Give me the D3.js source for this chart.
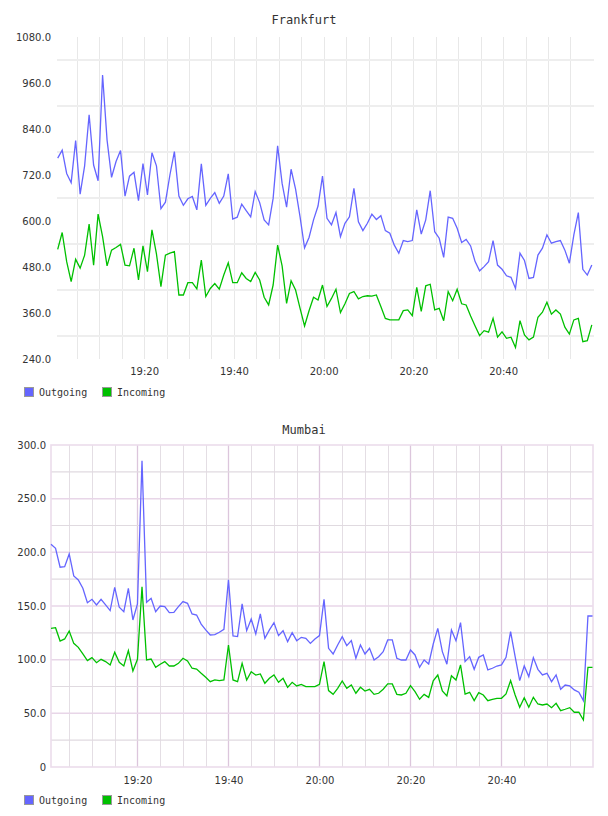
<!DOCTYPE html>
<html>
<head>
<meta charset="utf-8">
<script src="https://cdn.jsdelivr.net/npm/d3@7"></script>
<style>
  body { margin: 0; background: #fff; }
  text { fill: #333; }
</style>
</head>
<body>
<svg id="chart" width="608" height="816"></svg>
<script>
// series names, shared by both panels
var seriesNames = ["Outgoing", "Incoming"];

// Frankfurt, one sample per minute starting 19:00:45
var frankfurtStart = [19, 0, 45];
var frankfurtOut = [764, 785, 724, 700, 810, 670, 744, 877, 746, 705, 981, 811, 714, 755, 784, 665, 717, 727, 653, 750,
  668, 778, 744, 632, 649, 720, 781, 665, 641, 658, 664, 629, 749, 641, 659, 674, 646, 665, 723, 605,
  610, 644, 627, 611, 677, 648, 603, 590, 659, 796, 698, 636, 735, 683, 611, 530, 557, 603, 639, 717,
  607, 590, 622, 559, 594, 611, 685, 598, 575, 594, 618, 604, 614, 575, 568, 537, 516, 549, 546, 549,
  629, 566, 603, 679, 572, 555, 505, 610, 607, 581, 544, 552, 535, 494, 470, 481, 494, 549, 485, 474,
  457, 453, 424, 516, 497, 450, 453, 511, 529, 564, 542, 546, 549, 524, 490, 564, 622, 474, 459, 485];
var frankfurtIn = [526, 570, 494, 442, 500, 477, 511, 592, 485, 618, 559, 483, 524, 531, 539, 485, 483, 529, 446, 535,
  468, 577, 514, 429, 511, 516, 520, 407, 407, 439, 439, 423, 498, 403, 424, 437, 422, 459, 491, 439,
  439, 465, 450, 442, 466, 446, 401, 381, 433, 537, 483, 385, 444, 420, 372, 326, 366, 401, 394, 433,
  377, 398, 422, 361, 384, 411, 416, 397, 403, 405, 404, 407, 377, 346, 342, 342, 342, 366, 368, 353,
  427, 364, 431, 435, 368, 372, 340, 416, 392, 422, 384, 381, 352, 326, 301, 314, 310, 346, 297, 311,
  294, 297, 270, 340, 303, 290, 297, 349, 362, 388, 357, 368, 357, 323, 305, 342, 346, 285, 288, 329];
var frankfurtTicks = [240, 360, 480, 600, 720, 840, 960, 1080];

// Mumbai, one sample per minute starting 19:01:00
var mumbaiStart = [19, 1, 0];
var mumbaiOut = [207.5, 203.8, 186.1, 186.7, 198.5, 178, 174.3, 166.5, 153.1, 156.2, 151, 156.2, 151, 145.7, 167.4, 148.8, 144.7, 166.5, 137, 151.9,
  285.4, 153.4, 157.2, 144.7, 150, 149.4, 143.8, 144.1, 149.4, 154.1, 152.5, 142.6, 141.6, 133.2, 127.7, 123, 123.3, 125.5, 128.3, 174.3,
  122.1, 121.5, 151.9, 127, 137.9, 124, 142.6, 119.9, 127.7, 134.5, 122.4, 127, 116.8, 125.2, 117.7, 120.8, 119.9, 115.2, 119.3, 122.4,
  156.2, 110.6, 105.3, 113.7, 121.5, 113.1, 117.7, 101.3, 113.7, 105.3, 110.6, 99.7, 102.8, 107.5, 118.4, 118.4, 101.3, 99.7, 99.7, 109,
  104.4, 92.9, 99.7, 96, 114.6, 129.2, 107.5, 95.7, 127.7, 117.7, 134.5, 98.2, 102.8, 91, 102.2, 104.4, 90.4, 92, 94.1, 95.1,
  102.2, 126.1, 102.8, 80.5, 94.1, 84.2, 101.9, 91, 85.8, 87.3, 79.5, 85.8, 72.4, 76.4, 75.5, 71.8, 69.6, 61.8, 140.7, 140.7];
var mumbaiIn = [129.2, 129.8, 117.4, 119.3, 126.7, 115.2, 111.5, 105.3, 99.1, 101.9, 97.2, 100.3, 98.2, 95.1, 106.9, 97.5, 94.1, 108.4, 89.5, 100.3,
  168, 99.7, 100.6, 92.9, 95.7, 98.2, 94.1, 94.1, 96.6, 101.3, 98.8, 92, 91.3, 87.3, 83.6, 79.5, 81.1, 80.4, 81.1, 113.7,
  81.1, 79.5, 96.6, 81.1, 88.8, 85.7, 86.7, 78, 82.6, 85.7, 78.9, 82.6, 74.2, 78.9, 75.5, 77, 74.9, 74.9, 74.9, 77,
  98.2, 71.2, 67.7, 73.3, 80.2, 73.3, 76.4, 68.7, 74.3, 70.8, 72.4, 67.7, 68.7, 72.4, 77.4, 77.4, 67.7, 67.1, 68.7, 75.8,
  70.2, 63.1, 67.7, 64.9, 80.2, 85.7, 70.8, 66.2, 85.1, 81.1, 95.1, 68, 69.6, 61.8, 69.3, 67.1, 61.8, 63.1, 64, 64,
  68, 80.5, 67.1, 55.6, 64.6, 55.6, 64.9, 58.7, 57.8, 58.7, 55.3, 59.3, 52.5, 53.8, 55.3, 51, 51, 43.8, 92.9, 92.9];
var mumbaiTicks = [0, 50, 100, 150, 200, 250, 300];

var lineColors = ["#6565ff", "#00c000"];
var svg = d3.select("#chart");

function minuteTimes(start, n) {
  var t0 = new Date(2020, 0, 1, start[0], start[1], start[2]);
  return d3.range(n).map(function(i) { return new Date(t0.getTime() + i * 60000); });
}

function drawPanel(cfg) {
  var g = svg.append("g");
  var times = minuteTimes(cfg.start, cfg.series[0].length);

  var x = d3.scaleTime()
    .domain([times[0], times[times.length - 1]])
    .range([cfg.dataLeft, cfg.dataRight]);
  var y = d3.scaleLinear()
    .domain(d3.extent(cfg.ticks))
    .range([cfg.bottom, cfg.top]);

  var fiveMin = d3.timeMinute.every(5).range(times[0], times[times.length - 1]);
  var twentyMin = fiveMin.filter(function(d) { return d.getMinutes() % 20 === 0; });
  var isMajorT = d => cfg.pink && d.getMinutes() % 20 === 0;
  var isMajorV = d => cfg.pink && d % 50 === 0;

  // vertical grid
  g.append("g").selectAll("line")
    .data(fiveMin)
    .enter().append("line")
    .attr("x1", d => Math.round(x(d)) + 0.5)
    .attr("x2", d => Math.round(x(d)) + 0.5)
    .attr("y1", cfg.top)
    .attr("y2", cfg.bottom)
    .attr("stroke", d => isMajorT(d) ? "#dcc6dc" : cfg.minorColor)
    .attr("stroke-width", d => isMajorT(d) ? 1.3 : 1);

  // horizontal grid
  g.append("g").selectAll("line")
    .data(cfg.gridValues)
    .enter().append("line")
    .attr("x1", cfg.left)
    .attr("x2", cfg.right)
    .attr("y1", d => y(d))
    .attr("y2", d => y(d))
    .attr("stroke", d => isMajorV(d) ? "#e8d6e8" : cfg.hColor)
    .attr("stroke-width", d => isMajorV(d) ? 1.5 : cfg.hWidth);

  if (cfg.pink) {
    g.append("rect")
      .attr("x", cfg.left)
      .attr("y", cfg.top)
      .attr("width", cfg.right - cfg.left)
      .attr("height", cfg.bottom - cfg.top)
      .attr("fill", "none")
      .attr("stroke", "#ecdcec")
      .attr("stroke-width", 1.6);
  }

  // y labels
  var yAxis = d3.axisLeft(y)
    .tickValues(cfg.ticks)
    .tickSize(0)
    .tickPadding(0)
    .tickFormat(d => d === 0 ? "0" : d3.format(".1f")(d));
  var ya = g.append("g")
    .attr("transform", `translate(${cfg.labelX},0)`)
    .call(yAxis);
  ya.select(".domain").remove();
  ya.selectAll("text")
    .attr("font-family", "DejaVu Sans")
    .attr("font-size", "10px")
    .attr("fill", "#333");

  // x labels
  var xAxis = d3.axisBottom(x)
    .tickValues(twentyMin)
    .tickSize(0)
    .tickPadding(0)
    .tickFormat(d3.timeFormat("%H:%M"));
  var xa = g.append("g")
    .attr("transform", `translate(0,${cfg.xLabelY})`)
    .call(xAxis);
  xa.select(".domain").remove();
  xa.selectAll("text")
    .attr("font-family", "DejaVu Sans")
    .attr("font-size", "10px")
    .attr("fill", "#333");

  // lines
  cfg.series.forEach(function(vals, k) {
    var line = d3.line()
      .x((d, i) => x(times[i]))
      .y(d => y(d));
    g.append("path")
      .datum(vals)
      .attr("d", line)
      .attr("fill", "none")
      .attr("stroke", lineColors[k])
      .attr("stroke-width", 1.3)
      .attr("stroke-linejoin", "miter");
  });

  // title
  g.append("text")
    .attr("x", 304)
    .attr("y", cfg.titleY)
    .attr("text-anchor", "middle")
    .attr("font-family", "DejaVu Sans Mono")
    .attr("font-size", "12px")
    .attr("fill", "#222")
    .text(cfg.title);

  // legend
  var legendX = [24, 102];
  seriesNames.forEach(function(name, k) {
    g.append("rect")
      .attr("x", legendX[k] + 0.5)
      .attr("y", cfg.legendY - 4.5)
      .attr("width", 9)
      .attr("height", 9)
      .attr("fill", lineColors[k])
      .attr("stroke", "#999")
      .attr("stroke-width", 1);
    g.append("text")
      .attr("x", legendX[k] + 15)
      .attr("y", cfg.legendY)
      .attr("dy", "0.35em")
      .attr("font-family", "DejaVu Sans Mono")
      .attr("font-size", "10px")
      .attr("fill", "#111")
      .text(name);
  });
}

// Frankfurt: gridlines sit halfway between the labels
drawPanel({
  title: "Frankfurt",
  titleY: 24,
  start: frankfurtStart,
  series: [frankfurtOut, frankfurtIn],
  ticks: frankfurtTicks,
  gridValues: frankfurtTicks.slice(1).map(d => d - 60),
  left: 57, right: 594, top: 37, bottom: 359,
  dataLeft: 57.7, dataRight: 591.8,
  labelX: 51,
  xLabelY: 368,
  legendY: 392,
  pink: false,
  minorColor: "#e8e8e8",
  hColor: "#eeeeee",
  hWidth: 2
});

// Mumbai: pink major grid, grey minor grid
drawPanel({
  title: "Mumbai",
  titleY: 434,
  start: mumbaiStart,
  series: [mumbaiOut, mumbaiIn],
  ticks: mumbaiTicks,
  gridValues: d3.range(25, 300, 25),
  left: 51, right: 593, top: 445, bottom: 767,
  dataLeft: 51, dataRight: 592.5,
  labelX: 46,
  xLabelY: 777,
  legendY: 800,
  pink: true,
  minorColor: "#e4dee4",
  hColor: "#e0dae0",
  hWidth: 1.1
});
</script>
</body>
</html>
